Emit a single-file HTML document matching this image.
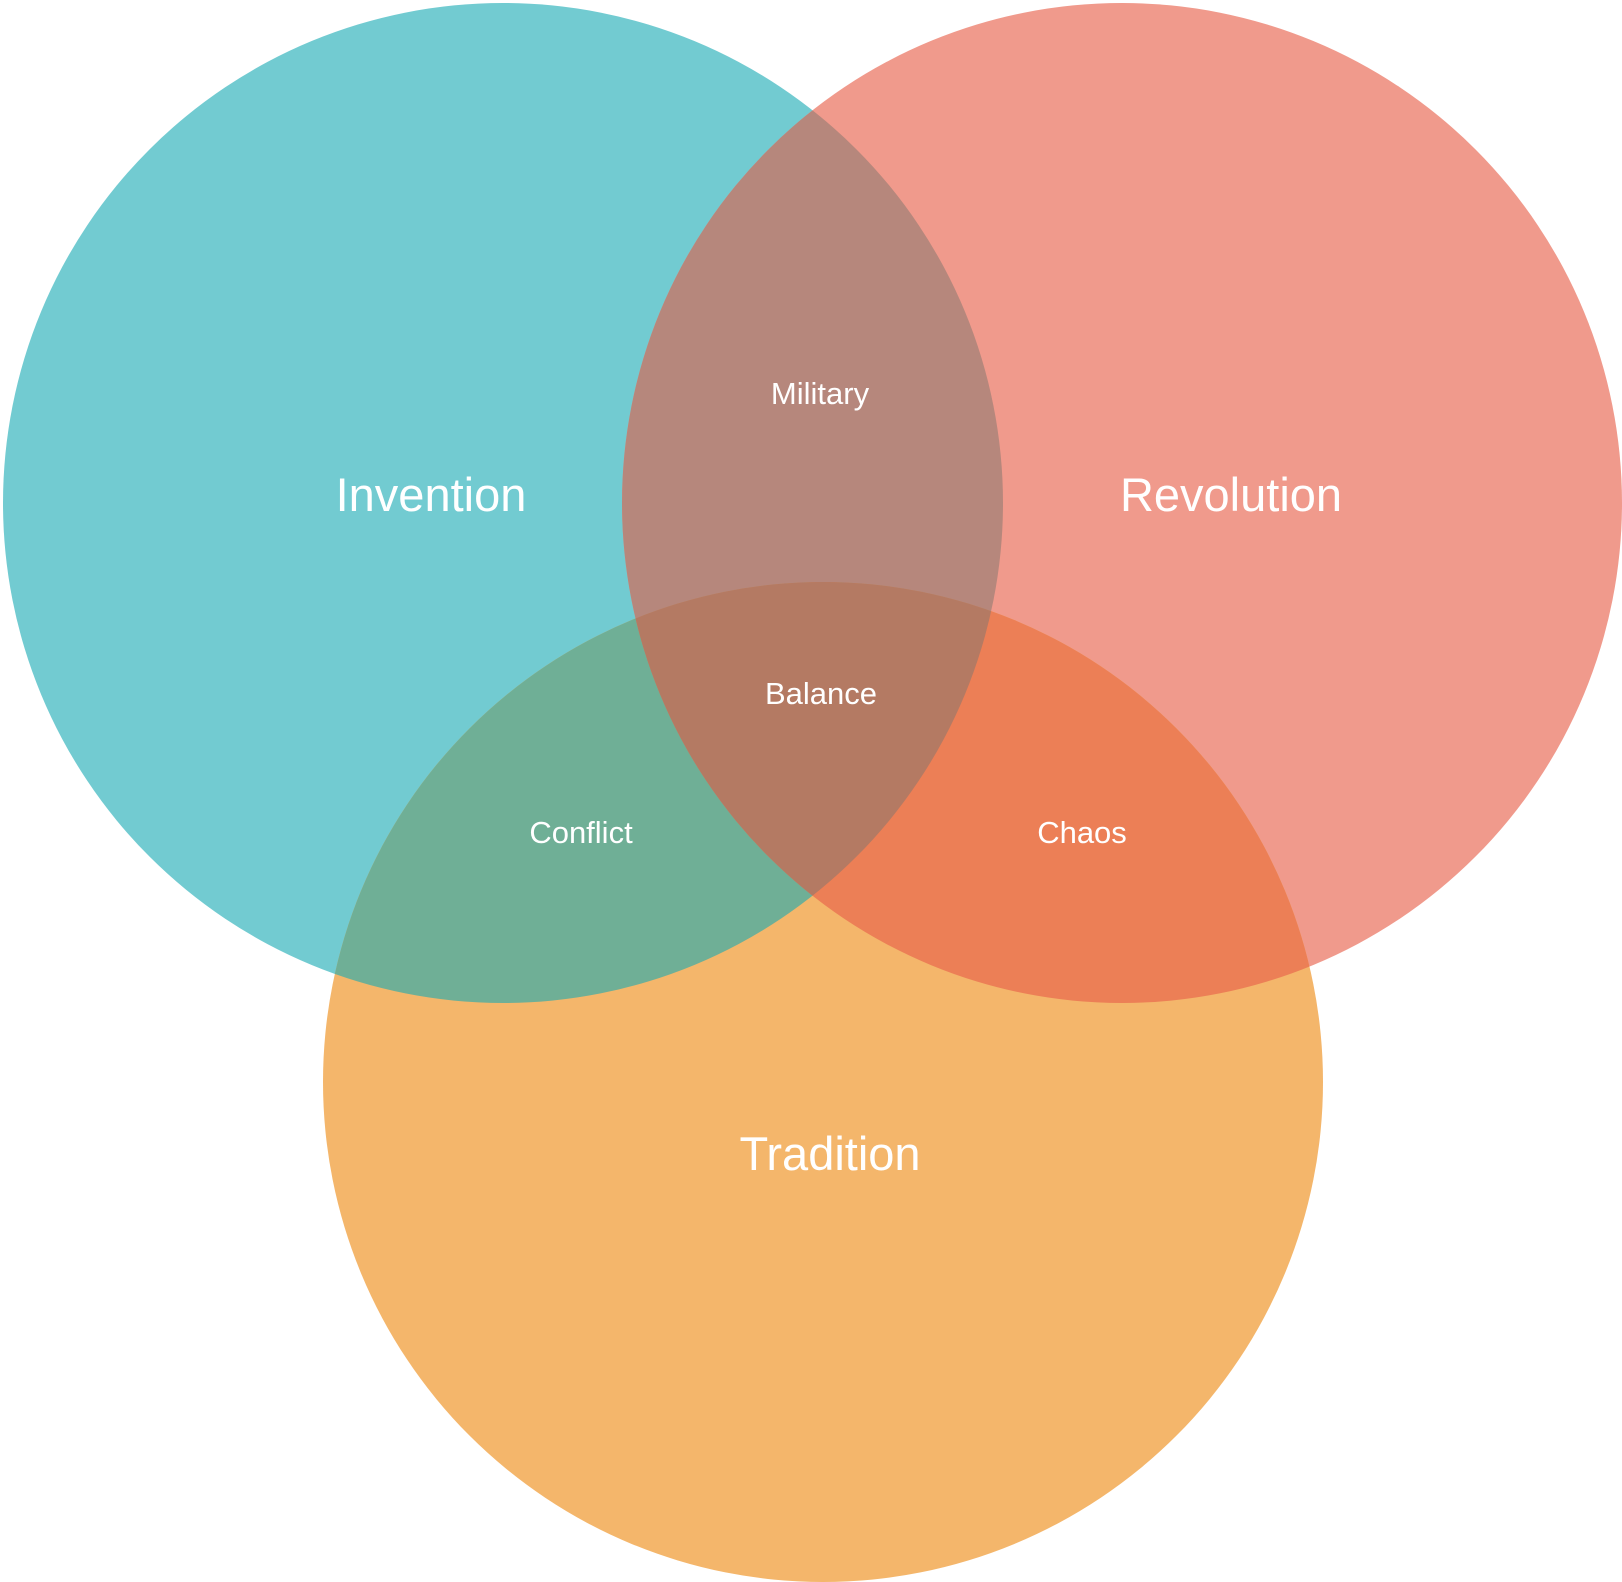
<!DOCTYPE html>
<html><head><meta charset="utf-8"><style>
html,body{margin:0;padding:0;background:#fff;}
svg{display:block;}
text{font-family:"Liberation Sans",Arial,sans-serif;fill:#fff;text-anchor:middle;}
</style></head><body>
<svg width="1622" height="1582" viewBox="0 0 1622 1582">
<defs>
<clipPath id="cA"><circle cx="503" cy="503" r="500"/></clipPath>
<clipPath id="cB"><circle cx="1122" cy="503" r="500"/></clipPath>
<clipPath id="cC"><circle cx="823" cy="1082" r="500"/></clipPath>
</defs>
<circle cx="503" cy="503" r="500" fill="#72cbd1"/>
<circle cx="1122" cy="503" r="500" fill="#f09a8c"/>
<circle cx="823" cy="1082" r="500" fill="#f4b66b"/>
<g clip-path="url(#cA)"><circle cx="1122" cy="503" r="500" fill="#b6877c"/></g>
<g clip-path="url(#cA)"><circle cx="823" cy="1082" r="500" fill="#6faf96"/></g>
<g clip-path="url(#cB)"><circle cx="823" cy="1082" r="500" fill="#ec7f56"/></g>
<g clip-path="url(#cA)"><g clip-path="url(#cB)"><circle cx="823" cy="1082" r="500" fill="#b47a63"/></g></g>
<text x="431" y="511" font-size="47">Invention</text>
<text x="1231" y="511" font-size="47">Revolution</text>
<text x="830" y="1170" font-size="47">Tradition</text>
<text x="820" y="404" font-size="31">Military</text>
<text x="821" y="704" font-size="31">Balance</text>
<text x="581" y="843" font-size="31">Conflict</text>
<text x="1082" y="843" font-size="31">Chaos</text>
</svg>
</body></html>
